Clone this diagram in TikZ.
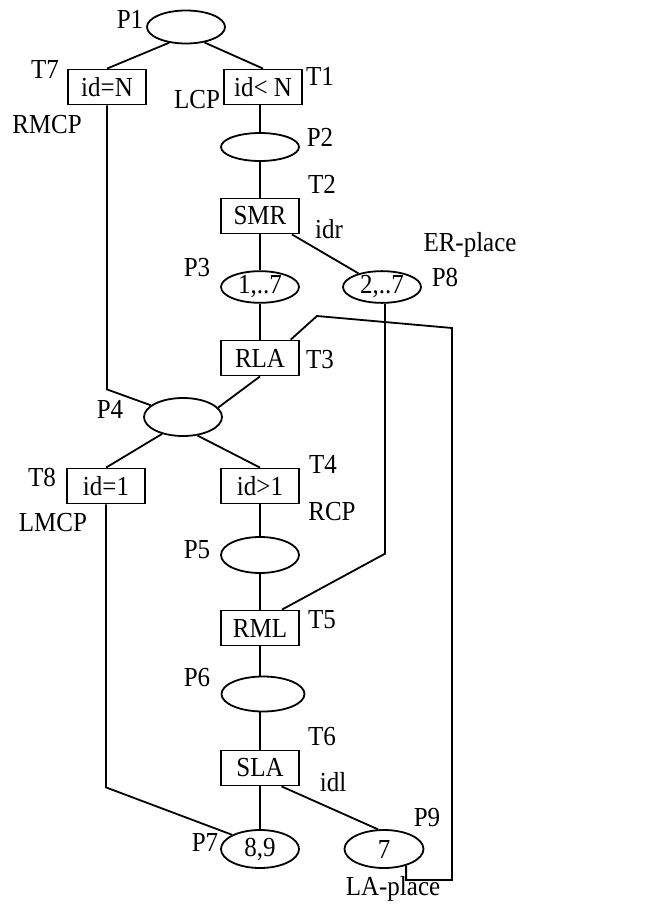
\documentclass[tikz,border=0pt]{standalone}
\usepackage{fontspec}
\usepackage{graphicx}
\setmainfont{Liberation Serif}
\usetikzlibrary{shapes.geometric,calc}
\newcommand{\tx}[1]{\scalebox{1}[1.1]{#1}}
\begin{document}
\begin{tikzpicture}[x=1pt,y=-1pt,
  every node/.style={font=\fontsize{25}{30}\selectfont},
  place/.style={draw,ellipse,line width=1.8pt,inner sep=0pt,minimum width=78pt,minimum height=34pt},
  trans/.style={draw,rectangle,line width=1.8pt,inner sep=0pt,minimum width=78pt,minimum height=35pt},
  lab/.style={inner sep=0pt,text height=1.5ex,text depth=0pt},
  arc/.style={line width=1.8pt,line join=miter}]
\useasboundingbox (0,0) rectangle (648,915);
% places
\node[place,minimum height=33pt] (P1) at (186,27) {};
\node[place,minimum height=28pt] (P2) at (260,147) {};
\node[place,minimum height=30pt] (P3) at (260,287) {\tx{1,..7}};
\node[place,minimum height=30pt] (P8) at (382,287) {\tx{2,..7}};
\node[place,minimum height=38pt] (P4) at (183,417) {};
\node[place,minimum height=36pt] (P5) at (260,555) {};
\node[place,minimum height=35pt,minimum width=83pt] (P6) at (263,694) {};
\node[place,minimum height=38pt] (P7) at (260,849) {\tx{8,9}};
\node[place,minimum height=38pt,minimum width=79pt] (P9) at (384,849) {\tx{7}};
% transitions
\node[trans] (T7) at (107,87) {\tx{id=N}};
\node[trans] (T1) at (263,87) {\tx{id< N}};
\node[trans] (T2) at (260,216) {\tx{SMR}};
\node[trans] (T3) at (260,358) {\tx{RLA}};
\node[trans] (T8) at (106,486) {\tx{id=1}};
\node[trans] (T4) at (260,486) {\tx{id>1}};
\node[trans] (T5) at (260,628) {\tx{RML}};
\node[trans] (T6) at (260,768) {\tx{SLA}};
% labels
\node[lab] (lP1) at (130,25) {\tx{P1}};
\node[lab] (lT7) at (45,75) {\tx{T7}};
\node[lab] (lT1) at (320,82) {\tx{T1}};
\node[lab] (lLCP) at (197,105) {\tx{LCP}};
\node[lab] (lRMCP) at (47,130) {\tx{RMCP}};
\node[lab] (lP2) at (320,143) {\tx{P2}};
\node[lab] (lT2) at (322,190) {\tx{T2}};
\node[lab] (lidr) at (329,235) {\tx{idr}};
\node[lab] (lER) at (470,248) {\tx{ER-place}};
\node[lab] (lP3) at (197,273) {\tx{P3}};
\node[lab] (lP8) at (445,283) {\tx{P8}};
\node[lab] (lT3) at (320,365) {\tx{T3}};
\node[lab] (lP4) at (110,415) {\tx{P4}};
\node[lab] (lT8) at (42,483) {\tx{T8}};
\node[lab] (lT4) at (323,470) {\tx{T4}};
\node[lab] (lRCP) at (332,517) {\tx{RCP}};
\node[lab] (lLMCP) at (53,528) {\tx{LMCP}};
\node[lab] (lP5) at (197,555) {\tx{P5}};
\node[lab] (lT5) at (322,625) {\tx{T5}};
\node[lab] (lP6) at (197,683) {\tx{P6}};
\node[lab] (lT6) at (322,742) {\tx{T6}};
\node[lab] (lidl) at (333,788) {\tx{idl}};
\node[lab] (lP7) at (205,848) {\tx{P7}};
\node[lab] (lP9) at (427,823) {\tx{P9}};
\node[lab] (lLA) at (393,892) {\tx{LA-place}};
% arcs
\draw[arc] (P1.223) -- (T7.north);
\draw[arc] (P1.320) -- (T1.north);
\draw[arc] (T1.south -| P2.north) -- (P2.north);
\draw[arc] (P2.south) -- (P2.south |- T2.north);
\draw[arc] (T2.south -| P3.north) -- (P3.north);
\draw[arc] ($(T2.south east)!0.2!(T2.south)$) -- (P8.150);
\draw[arc] (P3.south) -- (P3.south |- T3.north);
\draw[arc] (T3.south) -- (P4.15);
\draw[arc] (T7.south) -- ++(0,284) -- (P4.160);
\draw[arc] (P4.219) -- (T8.north);
\draw[arc] (P4.308) -- (T4.north);
\draw[arc] (T4.south -| P5.north) -- (P5.north);
\draw[arc] (P5.south) -- (P5.south |- T5.north);
\draw[arc] (P8.280) -- ++(0,250) -- ($(T5.north east)!0.45!(T5.north)$);
\draw[arc] (T5.south) -- (T5.south |- P6.north);
\draw[arc] (T6.north) -- (T6.north |- P6.south);
\draw[arc] (T6.south) -- (T6.south |- P7.north);
\draw[arc] ($(T6.south east)!0.46!(T6.south)$) -- (P9.107);
\draw[arc] (T8.south) -- ++(0,283) -- (P7.153);
\draw[arc] ($(T3.north east)!0.23!(T3.north)$) -- (317,316) -- (452,328) -- (452,880) -| (P9.323);
\end{tikzpicture}
\end{document}
